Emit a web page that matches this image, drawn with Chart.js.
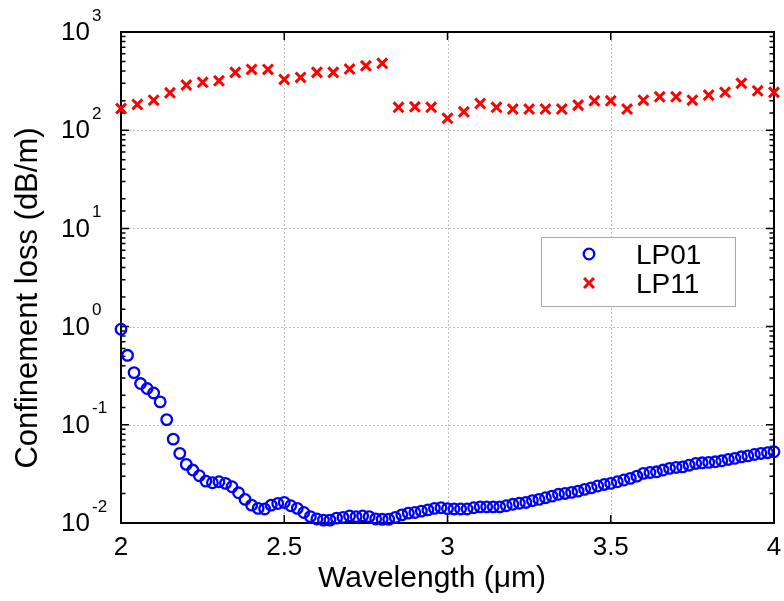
<!DOCTYPE html>
<html>
<head>
<meta charset="utf-8">
<script src="https://cdn.jsdelivr.net/npm/chart.js@4.4.1/dist/chart.umd.min.js"></script>
<style>
  html, body { margin: 0; padding: 0; background: #fff; }
  #wrap { width: 784px; height: 601px; }
</style>
</head>
<body>
<div id="wrap"><canvas id="chart"></canvas></div>
<script>
"use strict";
// LP01: wavelength (um) and confinement loss (dB/m)
const lp01Wavelength = [
  2.00, 2.02, 2.04, 2.06, 2.08, 2.10, 2.12, 2.14, 2.16, 2.18,
  2.20, 2.22, 2.24, 2.26, 2.28, 2.30, 2.32, 2.34, 2.36, 2.38,
  2.40, 2.42, 2.44, 2.46, 2.48, 2.50, 2.52, 2.54, 2.56, 2.58,
  2.60, 2.62, 2.64, 2.66, 2.68, 2.70, 2.72, 2.74, 2.76, 2.78,
  2.80, 2.82, 2.84, 2.86, 2.88, 2.90, 2.92, 2.94, 2.96, 2.98,
  3.00, 3.02, 3.04, 3.06, 3.08, 3.10, 3.12, 3.14, 3.16, 3.18,
  3.20, 3.22, 3.24, 3.26, 3.28, 3.30, 3.32, 3.34, 3.36, 3.38,
  3.40, 3.42, 3.44, 3.46, 3.48, 3.50, 3.52, 3.54, 3.56, 3.58,
  3.60, 3.62, 3.64, 3.66, 3.68, 3.70, 3.72, 3.74, 3.76, 3.78,
  3.80, 3.82, 3.84, 3.86, 3.88, 3.90, 3.92, 3.94, 3.96, 3.98,
  4.00
];
const lp01Loss = [
  0.94, 0.51, 0.34, 0.263, 0.234, 0.211, 0.171, 0.113, 0.0714, 0.0511,
  0.0395, 0.0346, 0.0303, 0.0267, 0.0257, 0.0263, 0.0253, 0.0234, 0.0203, 0.0174,
  0.0152, 0.0141, 0.0139, 0.0152, 0.0158, 0.0162, 0.0150, 0.0141, 0.0128, 0.0116,
  0.0110, 0.0107, 0.0107, 0.0112, 0.0114, 0.0118, 0.0116, 0.0118, 0.0116, 0.0110,
  0.0109, 0.0109, 0.0114, 0.0121, 0.0126, 0.0128, 0.0132, 0.0136, 0.0141, 0.0143,
  0.0140, 0.0139, 0.0139, 0.0139, 0.0143, 0.0146, 0.0146, 0.0146, 0.0146, 0.0150,
  0.0155, 0.0159, 0.0162, 0.0169, 0.0174, 0.0181, 0.0188, 0.0196, 0.0200, 0.0205,
  0.0211, 0.0220, 0.0228, 0.0238, 0.0247, 0.0253, 0.0263, 0.0274, 0.0285, 0.0300,
  0.0320, 0.0327, 0.0332, 0.0346, 0.0360, 0.0368, 0.0373, 0.0388, 0.0404, 0.0410,
  0.0414, 0.0420, 0.0430, 0.0444, 0.0455, 0.0472, 0.0483, 0.0499, 0.0511, 0.0520,
  0.0531
];
// LP11
const lp11Wavelength = [
  2.00, 2.05, 2.10, 2.15, 2.20, 2.25, 2.30, 2.35, 2.40, 2.45,
  2.50, 2.55, 2.60, 2.65, 2.70, 2.75, 2.80, 2.85, 2.90, 2.95,
  3.00, 3.05, 3.10, 3.15, 3.20, 3.25, 3.30, 3.35, 3.40, 3.45,
  3.50, 3.55, 3.60, 3.65, 3.70, 3.75, 3.80, 3.85, 3.90, 3.95,
  4.00
];
const lp11Loss = [
  166, 183, 202, 240, 288, 307, 318, 388, 416, 416,
  329, 345, 388, 388, 419, 453, 480, 171, 173, 171,
  132, 154, 187, 171, 164, 164, 164, 164, 180, 199,
  199, 164, 202, 219, 219, 202, 228, 243, 300, 252,
  243
];
const seriesNames = ["LP01", "LP11"];
const xLabel = "Wavelength (\u03bcm)";
const yLabel = "Confinement loss (dB/m)";

const FONT = "'Liberation Sans', Arial, Helvetica, sans-serif";
Chart.defaults.font.family = FONT;
Chart.defaults.color = "#000";

function is_decade(v) {
  const e = Math.log10(v);
  return Math.abs(e - Math.round(e)) < 1e-6;
}

// matlab style axes: dotted grid, box, inward ticks, 10^n labels
const matlab_axes = {
  id: "matlab_axes",
  beforeDatasetsDraw(chart) {
    const { ctx, chartArea: a, scales: { x, y } } = chart;
    ctx.save();
    ctx.strokeStyle = "#bfbfbf";
    ctx.lineWidth = 1;
    ctx.setLineDash([2, 2]);
    ctx.beginPath();
    x.ticks.forEach(t => {
      if (t.value <= x.min || t.value >= x.max) return;
      const px = Math.round(x.getPixelForValue(t.value)) + 0.5;
      ctx.moveTo(px, a.top);
      ctx.lineTo(px, a.bottom);
    });
    y.ticks.forEach(t => {
      if (!is_decade(t.value) || t.value <= y.min * 1.001 || t.value >= y.max * 0.999) return;
      const py = Math.round(y.getPixelForValue(t.value)) + 0.5;
      ctx.moveTo(a.left, py);
      ctx.lineTo(a.right, py);
    });
    ctx.stroke();
    ctx.setLineDash([]);

    // ticks pointing inward
    ctx.strokeStyle = "#000";
    ctx.lineWidth = 1.5;
    ctx.beginPath();
    x.ticks.forEach(t => {
      const px = x.getPixelForValue(t.value);
      ctx.moveTo(px, a.bottom);
      ctx.lineTo(px, a.bottom - 8);
      ctx.moveTo(px, a.top);
      ctx.lineTo(px, a.top + 8);
    });
    y.ticks.forEach(t => {
      const py = y.getPixelForValue(t.value);
      const len = is_decade(t.value) ? 8 : 4.5;
      ctx.moveTo(a.left, py);
      ctx.lineTo(a.left + len, py);
      ctx.moveTo(a.right, py);
      ctx.lineTo(a.right - len, py);
    });
    ctx.stroke();

    ctx.lineWidth = 2;
    ctx.strokeRect(a.left, a.top, a.right - a.left, a.bottom - a.top);

    // tick labels
    ctx.fillStyle = "#000";
    ctx.textBaseline = "middle";
    ctx.font = "26px " + FONT;
    ctx.textAlign = "center";
    x.ticks.forEach(t => {
      ctx.fillText(String(t.value), x.getPixelForValue(t.value), a.bottom + 25);
    });
    y.ticks.forEach(t => {
      if (!is_decade(t.value)) return;
      const py = y.getPixelForValue(t.value);
      const e = Math.round(Math.log10(t.value));
      ctx.font = "26px " + FONT;
      ctx.textAlign = "right";
      ctx.fillText("10", a.left - 31, py + 1);
      ctx.font = "17px " + FONT;
      ctx.textAlign = "left";
      ctx.fillText(String(e), a.left - 29, py - 16);
    });

    // axis titles
    ctx.font = "30px " + FONT;
    ctx.textAlign = "center";
    ctx.fillText(xLabel, 432, a.bottom + 56);
    ctx.save();
    ctx.translate(28, 298);
    ctx.rotate(-Math.PI / 2);
    ctx.font = "31px " + FONT;
    ctx.fillText(yLabel, 0, 0);
    ctx.restore();
    ctx.restore();
  },
  afterDatasetsDraw(chart) {
    // legend box
    const ctx = chart.ctx;
    const lx = 541, ly = 237, lw = 194, lh = 69;
    ctx.save();
    ctx.fillStyle = "#fff";
    ctx.fillRect(lx, ly, lw, lh);
    ctx.strokeStyle = "#a8a8a8";
    ctx.lineWidth = 1;
    ctx.strokeRect(lx + 0.5, ly + 0.5, lw, lh);
    chart.data.datasets.forEach((ds, i) => {
      const mx = 589, my = 254 + 29 * i;
      ctx.strokeStyle = ds.borderColor;
      ctx.lineWidth = ds.borderWidth;
      ctx.beginPath();
      if (ds.pointStyle === "circle") {
        ctx.arc(mx, my, ds.pointRadius, 0, Math.PI * 2);
      } else {
        const d = ds.pointRadius * Math.SQRT1_2;
        ctx.moveTo(mx - d, my - d); ctx.lineTo(mx + d, my + d);
        ctx.moveTo(mx - d, my + d); ctx.lineTo(mx + d, my - d);
      }
      ctx.stroke();
      ctx.fillStyle = "#000";
      ctx.font = "28px " + FONT;
      ctx.textAlign = "left";
      ctx.textBaseline = "middle";
      ctx.fillText(ds.label, 636, my + 2);
    });
    ctx.restore();
  }
};

new Chart(document.getElementById("chart"), {
  type: "scatter",
  data: {
    datasets: [
      {
        label: seriesNames[0],
        data: lp01Wavelength.map((w, i) => ({ x: w, y: lp01Loss[i] })),
        pointStyle: "circle",
        pointRadius: 5.3,
        borderWidth: 2.3,
        borderColor: "#0000ff",
        backgroundColor: "rgba(0,0,0,0)",
        clip: false
      },
      {
        label: seriesNames[1],
        data: lp11Wavelength.map((w, i) => ({ x: w, y: lp11Loss[i] })),
        pointStyle: "crossRot",
        pointRadius: 7,
        borderWidth: 3,
        borderColor: "#ff0000",
        backgroundColor: "#ff0000",
        clip: false
      }
    ]
  },
  options: {
    responsive: true,
    maintainAspectRatio: false,
    animation: false,
    events: [],
    layout: { padding: { left: 0, right: 6, top: 32, bottom: 0 } },
    plugins: { legend: { display: false }, tooltip: { enabled: false } },
    scales: {
      x: {
        type: "linear",
        min: 2,
        max: 4,
        ticks: { stepSize: 0.5, display: false },
        grid: { display: false },
        border: { display: false },
        afterFit(s) { s.height = 78; }
      },
      y: {
        type: "logarithmic",
        min: 0.01,
        max: 1000,
        ticks: { display: false },
        grid: { display: false },
        border: { display: false },
        afterFit(s) { s.width = 121; }
      }
    }
  },
  plugins: [matlab_axes]
});
</script>
</body>
</html>
